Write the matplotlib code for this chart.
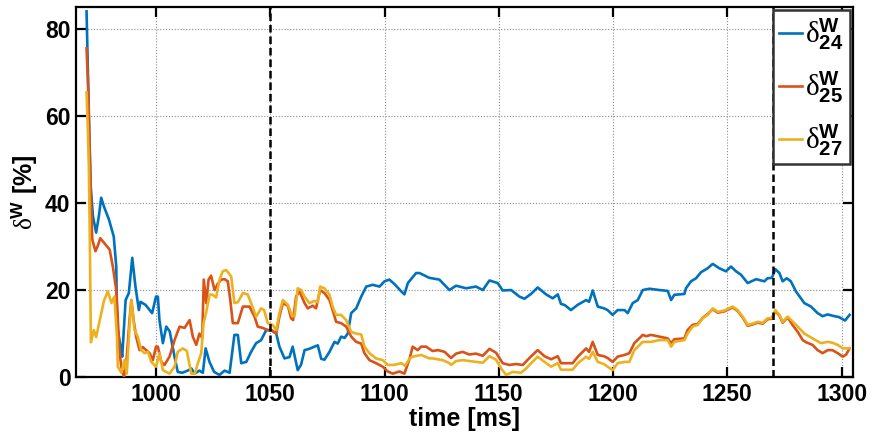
import matplotlib
matplotlib.use("Agg")
import matplotlib.pyplot as plt

plt.rcParams["font.family"] = ["Liberation Sans", "DejaVu Sans"]
plt.rcParams["mathtext.fontset"] = "custom"
plt.rcParams["mathtext.rm"] = "Liberation Serif"
plt.rcParams["mathtext.it"] = "Liberation Serif:italic"
plt.rcParams["mathtext.bf"] = "Liberation Sans:bold"

# --- series: time [ms] and delta^W [%] ---
t24 = [969.6, 970.2, 970.8, 971.4, 972.4, 973.8, 975.0, 976.0, 977.2, 979.4, 981.5, 982.6, 983.0,
       984.5, 985.2, 986.7, 988.1, 989.6, 991.0, 992.5, 993.2, 995.4, 998.3, 1000.0, 1000.8, 1001.5,
       1003.0, 1004.5, 1006.0, 1008.1, 1009.5, 1011.5, 1013.9, 1015.5, 1016.8, 1019.0, 1020.5, 1021.7,
       1023.4, 1025.4, 1027.8, 1030.0, 1032.2, 1034.3, 1035.8, 1037.3, 1039.5, 1041.6, 1043.8, 1046.0,
       1048.2, 1050.4, 1052.6, 1054.0, 1056.2, 1058.4, 1059.8, 1062.0, 1063.5, 1065.0, 1067.1, 1069.3,
       1070.8, 1072.3, 1073.7, 1075.9, 1078.1, 1079.5, 1081.0, 1082.5, 1083.9, 1085.4, 1087.6, 1089.8,
       1092.0, 1094.8, 1097.8, 1100.0, 1102.1, 1104.3, 1107.3, 1108.7, 1110.2, 1113.8, 1115.3, 1119.6,
       1124.0, 1128.4, 1131.3, 1135.7, 1140.0, 1143.0, 1145.9, 1149.5, 1151.7, 1155.4, 1159.0, 1161.2,
       1164.1, 1167.0, 1170.7, 1173.6, 1175.8, 1177.2, 1178.7, 1181.6, 1184.5, 1188.2, 1189.5, 1191.1,
       1193.3, 1196.0, 1197.6, 1199.8, 1202.0, 1205.0, 1206.4, 1208.6, 1210.8, 1213.0, 1215.9, 1220.3,
       1223.9, 1225.4, 1226.8, 1231.2, 1231.9, 1234.1, 1236.3, 1238.5, 1241.4, 1243.6, 1246.5, 1249.4,
       1251.6, 1253.8, 1256.0, 1258.9, 1262.6, 1266.2, 1267.6, 1269.5, 1271.0, 1272.8, 1274.2, 1276.0,
       1277.8, 1280.0, 1283.7, 1286.6, 1289.5, 1291.7, 1293.9, 1296.8, 1298.8, 1301.5, 1303.5]
d24 = [84.0, 70.0, 56.0, 44.0, 36.9, 33.2, 37.0, 41.2, 39.2, 36.2, 32.3, 25.4, 11.6,
       7.0, 4.7, 17.7, 19.3, 27.4, 20.8, 15.4, 17.3, 16.6, 14.7, 18.5, 18.5, 13.1,
       7.8, 11.6, 10.5, 4.7, 1.2, 1.0, 1.5, 2.0, 0.8, 1.5, 1.0, 6.6,
       3.5, 1.2, 0.5, 1.5, 1.0, 9.7, 9.7, 3.2, 3.5, 5.8, 7.8, 8.5,
       10.8, 10.8, 10.0, 7.0, 4.3, 4.6, 7.0, 1.6, 2.9, 6.2, 6.5, 7.0,
       7.3, 4.2, 4.0, 5.8, 8.1, 7.7, 9.3, 9.0, 10.0, 14.7, 15.8, 18.5,
       20.8, 21.2, 20.8, 22.0, 22.4, 21.4, 19.7, 19.0, 21.6, 23.9, 23.9, 22.8,
       22.4, 20.0, 21.0, 20.4, 20.8, 20.0, 22.2, 21.6, 19.9, 20.0, 18.5, 18.0,
       19.1, 20.6, 19.0, 18.1, 19.0, 16.8, 16.6, 15.4, 16.6, 17.7, 17.3, 19.9,
       16.2, 15.8, 15.4, 14.3, 15.4, 15.4, 14.7, 17.0, 17.7, 20.0, 20.3, 20.0,
       19.8, 17.7, 18.9, 19.1, 20.4, 22.0, 22.7, 24.1, 25.0, 26.0, 25.0, 24.3,
       25.4, 24.3, 23.5, 21.6, 22.5, 22.0, 22.7, 22.8, 24.8, 23.9, 22.0, 22.7,
       22.0, 19.7, 17.0, 16.2, 14.7, 14.0, 14.4, 14.0, 13.8, 13.0, 14.3]

t25 = [969.6, 970.2, 970.6, 971.4, 972.1, 973.5, 974.7, 975.6, 977.8, 979.7, 981.1, 982.6, 983.3,
       984.0, 984.8, 986.0, 987.0, 988.4, 989.2, 990.2, 991.3, 992.8, 994.2, 995.7, 997.2, 998.6,
       1000.0, 1000.8, 1002.3, 1003.7, 1005.9, 1008.1, 1010.3, 1012.5, 1014.7, 1016.1, 1017.6, 1019.0,
       1020.2, 1020.9, 1022.0, 1023.0, 1024.1, 1025.6, 1027.0, 1028.5, 1030.0, 1031.4, 1032.5, 1033.6,
       1035.8, 1038.0, 1040.9, 1043.1, 1044.5, 1046.7, 1048.9, 1051.0, 1052.6, 1054.0, 1055.5, 1057.7,
       1059.1, 1060.0, 1061.3, 1062.8, 1065.0, 1066.4, 1068.6, 1070.0, 1071.8, 1073.7, 1075.9, 1077.3,
       1078.8, 1081.0, 1083.2, 1085.4, 1087.6, 1089.8, 1091.2, 1093.4, 1096.3, 1099.2, 1101.4, 1103.6,
       1106.5, 1108.7, 1111.0, 1112.3, 1114.5, 1116.0, 1118.2, 1121.0, 1123.5, 1126.3, 1129.1, 1131.3,
       1134.2, 1137.1, 1140.0, 1143.0, 1145.9, 1148.8, 1151.7, 1154.6, 1157.5, 1160.5, 1163.4, 1167.0,
       1170.0, 1172.9, 1175.8, 1177.2, 1179.4, 1182.3, 1184.6, 1188.2, 1189.5, 1191.1, 1193.3, 1196.0,
       1197.6, 1199.8, 1202.0, 1205.0, 1207.1, 1209.3, 1213.0, 1214.5, 1216.6, 1220.3, 1223.9, 1225.4,
       1226.8, 1231.2, 1232.6, 1234.8, 1237.0, 1239.2, 1241.4, 1243.6, 1245.8, 1248.7, 1252.3, 1254.5,
       1256.7, 1258.9, 1261.1, 1263.3, 1265.5, 1267.6, 1269.5, 1271.0, 1272.8, 1274.2, 1276.4, 1278.5,
       1280.8, 1283.0, 1284.5, 1287.3, 1289.5, 1291.7, 1293.9, 1296.0, 1298.3, 1300.5, 1302.0, 1303.5]
d25 = [75.5, 68.0, 60.0, 43.0, 31.6, 28.9, 30.4, 31.9, 30.5, 29.3, 25.4, 20.0, 13.1,
       6.2, 2.4, 0.0, 3.2, 13.1, 17.7, 13.1, 9.3, 6.2, 6.9, 6.2, 5.5, 3.9,
       7.0, 7.0, 3.5, 2.8, 4.7, 8.5, 11.6, 11.3, 13.1, 9.3, 7.4, 10.0,
       9.0, 22.4, 17.0, 22.4, 23.3, 20.0, 21.4, 22.4, 22.5, 22.0, 17.7, 12.4,
       12.4, 16.2, 16.2, 13.9, 11.6, 11.3, 10.8, 10.6, 10.0, 13.9, 17.0, 16.4,
       13.5, 13.1, 18.5, 19.7, 17.0, 15.8, 16.4, 15.8, 20.0, 19.3, 17.7, 15.4,
       12.7, 12.4, 11.6, 9.3, 8.1, 7.7, 5.5, 3.9, 3.2, 2.4, 1.3, 0.8,
       1.3, 0.8, 4.3, 7.0, 6.2, 7.0, 7.0, 6.0, 6.2, 5.8, 4.4, 5.4,
       5.8, 5.2, 5.4, 4.9, 6.5, 5.6, 3.2, 2.8, 3.0, 2.8, 4.4, 6.2,
       4.8, 4.1, 4.8, 3.2, 3.2, 3.2, 4.7, 6.6, 5.8, 8.1, 5.1, 4.8,
       4.4, 3.5, 4.7, 5.1, 5.5, 7.8, 9.7, 9.4, 9.7, 9.3, 8.9, 7.8,
       8.7, 8.9, 10.8, 12.0, 12.2, 13.6, 14.5, 15.6, 14.8, 15.1, 16.0, 15.2,
       13.7, 11.8, 12.1, 12.5, 12.3, 13.3, 13.4, 15.2, 14.1, 12.5, 13.7, 12.0,
       10.4, 8.5, 8.0, 7.4, 6.2, 5.5, 6.2, 6.2, 5.5, 4.7, 5.2, 6.6]

t27 = [969.6, 970.1, 970.6, 971.0, 971.5, 972.8, 973.8, 975.7, 977.2, 978.9, 980.5, 981.8, 982.9,
       983.3, 984.8, 986.2, 987.2, 988.4, 989.2, 990.6, 992.0, 993.5, 995.0, 996.5, 997.9, 1000.0,
       1001.5, 1003.0, 1005.9, 1008.1, 1009.5, 1011.7, 1013.5, 1015.4, 1017.0, 1018.3, 1019.8, 1020.8,
       1022.0, 1023.4, 1024.6, 1026.3, 1027.8, 1029.2, 1030.7, 1032.9, 1034.3, 1035.8, 1038.0, 1040.1,
       1041.6, 1043.8, 1046.0, 1047.3, 1048.9, 1051.0, 1052.6, 1054.0, 1055.5, 1057.7, 1059.6, 1060.6,
       1062.0, 1063.5, 1065.0, 1067.1, 1069.3, 1070.8, 1071.8, 1073.7, 1075.9, 1077.3, 1078.8, 1081.0,
       1083.2, 1085.4, 1087.6, 1089.8, 1091.2, 1093.4, 1096.3, 1099.2, 1101.4, 1104.3, 1107.3, 1109.0,
       1111.0, 1112.3, 1116.0, 1119.6, 1121.0, 1125.5, 1128.4, 1129.1, 1131.3, 1134.2, 1137.1, 1140.0,
       1143.0, 1145.9, 1148.8, 1151.0, 1153.2, 1156.1, 1159.7, 1162.0, 1163.4, 1167.0, 1170.0, 1172.9,
       1175.8, 1177.2, 1180.1, 1182.3, 1184.6, 1188.2, 1189.5, 1191.1, 1193.3, 1196.0, 1197.6, 1199.8,
       1202.0, 1205.0, 1207.1, 1209.3, 1213.0, 1216.6, 1220.3, 1223.9, 1225.4, 1226.8, 1231.2, 1232.6,
       1234.8, 1237.0, 1239.2, 1241.4, 1243.6, 1245.8, 1248.7, 1252.3, 1254.5, 1256.7, 1258.9, 1261.1,
       1263.3, 1265.5, 1267.6, 1269.5, 1271.0, 1272.8, 1274.2, 1276.4, 1278.5, 1280.8, 1283.7, 1287.3,
       1291.0, 1293.9, 1296.0, 1298.3, 1300.5, 1303.5]
d27 = [65.4, 58.0, 48.5, 33.2, 8.0, 10.8, 9.2, 13.9, 17.5, 19.7, 17.0, 18.5, 9.3,
       2.4, 1.0, 3.9, 0.8, 11.6, 17.7, 10.8, 9.3, 6.2, 5.5, 5.8, 3.5, 2.4,
       5.5, 1.6, 0.8, 2.4, 5.8, 6.6, 6.0, 0.8, 0.8, 3.2, 5.5, 12.4,
       15.0, 18.9, 19.0, 18.3, 22.4, 24.3, 24.6, 23.1, 17.0, 17.2, 19.3, 19.0,
       17.0, 13.9, 15.8, 15.4, 12.4, 12.0, 10.8, 14.7, 17.7, 16.6, 14.0, 14.0,
       20.4, 20.0, 18.5, 17.0, 17.5, 17.2, 20.8, 20.4, 18.9, 16.2, 14.3, 14.3,
       13.1, 10.4, 10.0, 9.8, 7.0, 5.5, 4.3, 3.9, 2.8, 2.8, 3.2, 2.6,
       4.3, 4.7, 5.1, 4.3, 4.3, 3.9, 3.2, 2.8, 3.7, 3.9, 3.7, 3.5,
       3.3, 4.8, 4.0, 2.0, 0.5, 1.2, 1.0, 2.0, 2.8, 4.7, 3.5, 2.4,
       3.2, 1.7, 1.7, 1.7, 3.2, 4.7, 4.2, 5.8, 3.5, 3.0, 2.4, 1.6,
       3.2, 3.5, 3.5, 6.2, 8.1, 8.1, 8.5, 8.5, 7.0, 8.1, 8.5, 10.0,
       11.6, 12.0, 13.5, 14.3, 15.8, 15.0, 15.3, 16.2, 15.4, 13.9, 12.0, 12.3,
       12.7, 12.5, 13.5, 13.6, 15.4, 14.3, 12.7, 13.9, 12.8, 11.6, 10.0, 8.9,
       7.8, 8.1, 7.9, 7.4, 6.6, 6.6]

labels = [r"$\mathrm{\delta}^{\mathbf{W}}_{\mathbf{24}}$",
          r"$\mathrm{\delta}^{\mathbf{W}}_{\mathbf{25}}$",
          r"$\mathrm{\delta}^{\mathbf{W}}_{\mathbf{27}}$"]
colors = ["#0072BD", "#D95319", "#EDB120"]
marker_times = [1050, 1270]
xticks = [1000, 1050, 1100, 1150, 1200, 1250, 1300]
yticks = [0, 20, 40, 60, 80]

fig = plt.figure(figsize=(8.74, 4.37), dpi=100)
ax = fig.add_axes([0.087, 0.137, 0.889, 0.847])

for tt, dd, lab, col in zip([t24, t25, t27], [d24, d25, d27], labels, colors):
    ax.plot(tt, dd, color=col, lw=1.9, label=lab, zorder=3)

for xm in marker_times:
    ax.axvline(xm, color="black", lw=1.8, ls=(0, (3, 1.6)), zorder=4)

ax.set_xlim(965, 1305)
ax.set_ylim(0, 85)
ax.set_xticks(xticks)
ax.set_yticks(yticks)
ax.grid(True, ls=(0, (1, 1.6)), color="0.55", lw=0.8)
ax.tick_params(direction="in", top=True, right=True, length=7, width=1.6,
               labelsize=16.5, pad=4)
for lbl in ax.get_xticklabels() + ax.get_yticklabels():
    lbl.set_fontweight("bold")
for sp in ax.spines.values():
    sp.set_linewidth(1.6)

ax.set_xlabel("time [ms]", fontsize=18, fontweight="bold", labelpad=1)
ax.set_ylabel(r"$\mathrm{\delta}^{\mathbf{W}}$ [%]", fontsize=18, fontweight="bold", labelpad=4)

leg = ax.legend(loc="upper right", fontsize=21, handlelength=0.8, handletextpad=0.1,
                borderpad=0.2, labelspacing=0.6, fancybox=False, framealpha=1,
                edgecolor="0.2", borderaxespad=0.12)
leg.get_frame().set_linewidth(1.8)

fig.savefig("out.png", dpi=100)
